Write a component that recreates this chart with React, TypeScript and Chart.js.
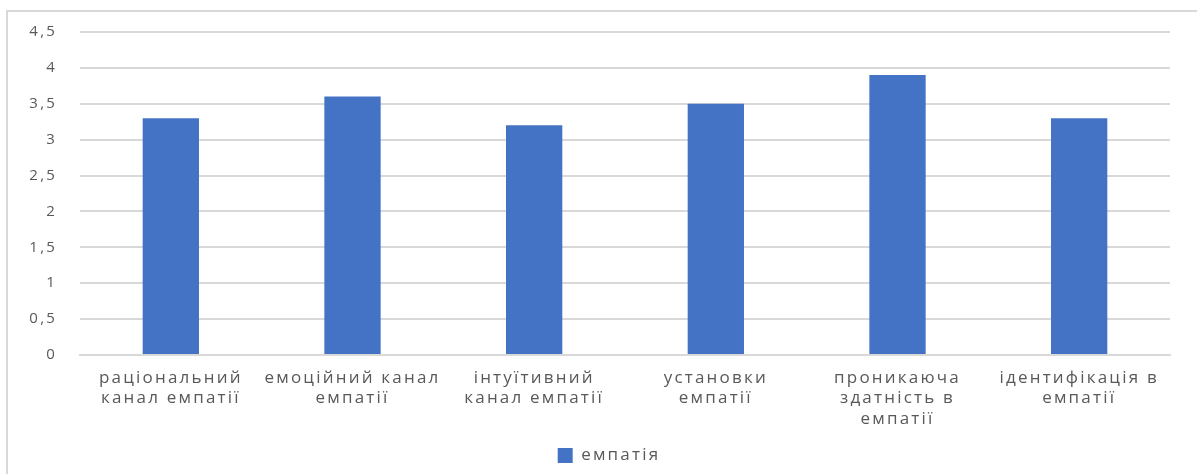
import React, { useEffect, useRef } from "react";
import { Chart, registerables } from "chart.js";

Chart.register(...registerables);

const categories: string[][] = [
  ["раціональний", "канал емпатії"],
  ["емоційний канал", "емпатії"],
  ["інтуїтивний", "канал емпатії"],
  ["установки", "емпатії"],
  ["проникаюча", "здатність в", "емпатії"],
  ["ідентифікація в", "емпатії"],
];
const seriesName = "емпатія";
const values: number[] = [3.3, 3.6, 3.2, 3.5, 3.9, 3.3];
const yMin = 0;
const yMax = 4.5;
const yStep = 0.5;

const FONT = "'Open Sans', 'DejaVu Sans', sans-serif";
const TEXT = "#595959";

const spacingPlugin = {
  id: "letterSpacing",
  beforeLayout(chart: any) {
    chart.ctx.letterSpacing = "2.2px";
  },
  afterLayout(chart: any) {
    if (chart.legend) {
      chart.legend.left += 24;
      chart.legend.right += 24;
    }
  },
  beforeDraw(chart: any) {
    chart.ctx.letterSpacing = "2.2px";
  },
};

export default function App() {
  const ref = useRef<HTMLCanvasElement | null>(null);
  useEffect(() => {
    if (!ref.current) return;
    const chart = new Chart(ref.current, {
      type: "bar",
      data: {
        labels: categories,
        datasets: [
          {
            label: seriesName,
            data: values,
            backgroundColor: "#4472C4",
            borderWidth: 0,
            categoryPercentage: 0.62,
            barPercentage: 0.5,
          },
        ],
      },
      plugins: [spacingPlugin],
      options: {
        animation: false,
        responsive: false,
        maintainAspectRatio: false,
        layout: { padding: { left: 0, right: 27, top: 27, bottom: 0 } },
        plugins: {
          legend: {
            position: "bottom",
            labels: {
              boxWidth: 15,
              boxHeight: 15,
              color: TEXT,
              font: { family: FONT, size: 17 },
              padding: 6,
            },
          },
          tooltip: { enabled: false },
        },
        scales: {
          x: {
            grid: { display: false, drawTicks: false },
            border: { display: true, color: "#d9d9d9", width: 2 },
            ticks: {
              color: TEXT,
              font: { family: FONT, size: 17, lineHeight: 1.2 },
              padding: 13,
              maxRotation: 0,
              autoSkip: false,
            },
            afterFit: (s: any) => {
              s.height = 86;
            },
          },
          y: {
            min: yMin,
            max: yMax,
            grid: { color: "#d9d9d9", lineWidth: 2, drawTicks: false },
            border: { display: false },
            ticks: {
              stepSize: yStep,
              color: TEXT,
              padding: 23,
              font: { family: FONT, size: 15 },
              callback: (v: any) => String(v).replace(".", ","),
            },
            afterFit: (s: any) => {
              s.width = 80;
            },
          },
        },
      },
    });
    return () => chart.destroy();
  }, []);
  return (
    <div style={{ position: "fixed", left: 0, top: 0, width: 1197, height: 474, overflow: "hidden", background: "#fff" }}>
      <div
        style={{
          position: "absolute",
          left: 6,
          top: 10,
          width: 1300,
          height: 600,
          border: "2px solid #d9d9d9",
          boxSizing: "border-box",
        }}
      />
      <canvas ref={ref} width={1197} height={474} style={{ position: "absolute", left: 0, top: 0 }} />
    </div>
  );
}
